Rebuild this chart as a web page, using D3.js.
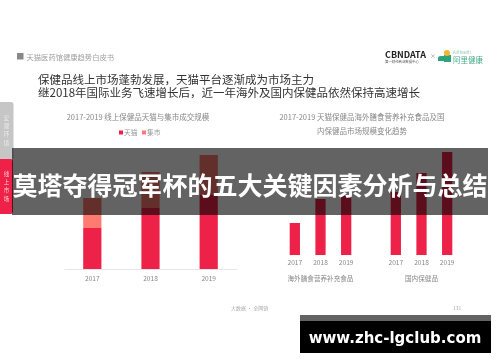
<!DOCTYPE html>
<html>
<head>
<meta charset="utf-8">
<script src="https://cdn.jsdelivr.net/npm/d3@7"></script>
<style>
html, body { margin: 0; padding: 0; background: #fff; }
svg { display: block; }
text { font-family: "Noto Sans CJK SC", "Noto Sans", sans-serif; }
</style>
</head>
<body>
<script>
const years = ["2017", "2018", "2019"]
// 左图：天猫 + 集市 堆叠
const tmall = [41, 61, 74]
const jishi = [30, 36, 40]
// 右图：两组
const overseas = [32, 56, 60]
const domestic = [63, 82, 103]
const groupNames = ["海外膳食营养补充食品", "国内保健品"]

const headLines = [
  "保健品线上市场蓬勃发展，天猫平台逐渐成为市场主力",
  "继2018年国际业务飞速增长后，近一年海外及国内保健品依然保持高速增长"
]
const rightTitle = ["2017-2019 天猫保健品海外膳食营养补充食品及国", "内保健品市场规模变化趋势"]

const red = "#ee2449"
const salmon = "#ff7a70"

const svg = d3.select("body").append("svg")
  .attr("width", 500)
  .attr("height", 362)

const defs = svg.append("defs")
defs.append("filter").attr("id", "soft")
  .attr("x", "-5%").attr("y", "-5%").attr("width", "110%").attr("height", "110%")
  .append("feGaussianBlur").attr("stdDeviation", 0.4)

const page = svg.append("g").attr("filter", "url(#soft)")

// 页眉
page.append("rect").attr("x", 17).attr("y", 53).attr("width", 6.5).attr("height", 6.5).attr("fill", "#888")
page.append("text").attr("x", 26.5).attr("y", 59.5).attr("font-size", 7.3).attr("fill", "#a0a0a0")
  .text("天猫医药馆健康趋势白皮书")

page.selectAll(".head").data(headLines).enter().append("text")
  .attr("class", "head")
  .attr("x", 38)
  .attr("y", (d, i) => 83.5 + i * 13)
  .attr("font-size", 11.5)
  .attr("fill", "#333")
  .text(d => d)

// 标签页
page.append("rect").attr("x", -4).attr("y", 102).attr("width", 17.5).attr("height", 58).attr("rx", 2.5).attr("fill", "#c6c6c6")
page.append("rect").attr("x", -4).attr("y", 159).attr("width", 17).attr("height", 55).attr("rx", 2.5).attr("fill", red)
const tabs = [["宏观环境", 120], ["线上市场", 176]]
tabs.forEach(t => {
  page.append("g").selectAll("text").data(Array.from(t[0])).enter().append("text")
    .attr("x", 6.5)
    .attr("y", (d, i) => t[1] + i * 8.2)
    .attr("text-anchor", "middle")
    .attr("font-size", 5.5)
    .attr("fill", t[0] === "线上市场" ? "#ffc9d2" : "#eee")
    .text(d => d)
})

// 左图
page.append("text").attr("x", 138).attr("y", 120).attr("text-anchor", "middle").attr("font-size", 7.5).attr("fill", "#888")
  .text("2017-2019 线上保健品天猫与集市成交规模")

const legend = page.append("g").selectAll("g").data([["天猫", red, 119], ["集市", salmon, 142]]).enter().append("g")
legend.append("rect").attr("x", d => d[2]).attr("y", 130.5).attr("width", 4).attr("height", 4).attr("fill", d => d[1])
legend.append("text").attr("x", d => d[2] + 5).attr("y", 135).attr("font-size", 6.8).attr("fill", "#999").text(d => d[0])

const xLeft = d3.scaleBand().domain(years).range([64, 237]).paddingInner(0.687).paddingOuter(0.33)
const yLeft = d3.scaleLinear().domain([0, 114]).range([269, 155])

const leftAxis = page.append("g").attr("transform", "translate(0,269)")
  .call(d3.axisBottom(xLeft).tickSize(0).tickPadding(7))
leftAxis.select(".domain").attr("stroke", "#e6e6e6")
leftAxis.selectAll("text").attr("font-size", 6.6).attr("fill", "#888").attr("font-family", "'Open Sans', sans-serif")

page.append("g").selectAll("rect").data(years).enter().append("rect")
  .attr("x", d => xLeft(d))
  .attr("width", xLeft.bandwidth())
  .attr("y", (d, i) => yLeft(tmall[i]))
  .attr("height", (d, i) => yLeft(0) - yLeft(tmall[i]))
  .attr("fill", red)

page.append("g").selectAll("rect").data(years).enter().append("rect")
  .attr("x", d => xLeft(d))
  .attr("width", xLeft.bandwidth())
  .attr("y", (d, i) => yLeft(tmall[i] + jishi[i]))
  .attr("height", (d, i) => yLeft(tmall[i]) - yLeft(tmall[i] + jishi[i]))
  .attr("fill", salmon)

// 右图
page.selectAll(".rtitle").data(rightTitle).enter().append("text")
  .attr("class", "rtitle")
  .attr("x", 362)
  .attr("y", (d, i) => 120 + i * 14)
  .attr("text-anchor", "middle")
  .attr("font-size", 7.5)
  .attr("fill", "#888")
  .text(d => d)

const yRight = d3.scaleLinear().domain([0, 103]).range([255, 152])

function drawGroup(values, x0, x1, name) {
  const x = d3.scaleBand().domain(years).range([x0, x1]).paddingInner(0.6).paddingOuter(0.3)
  const axis = page.append("g").attr("transform", "translate(0,255)")
    .call(d3.axisBottom(x).tickSize(0).tickPadding(5))
  axis.select(".domain").remove()
  axis.selectAll("text").attr("font-size", 6.6).attr("fill", "#888").attr("font-family", "'Open Sans', sans-serif")

  page.append("g").selectAll("rect").data(values).enter().append("rect")
    .attr("x", (d, i) => x(years[i]))
    .attr("width", x.bandwidth())
    .attr("y", d => yRight(d))
    .attr("height", d => yRight(0) - yRight(d))
    .attr("fill", red)

  page.append("text").attr("x", (x0 + x1) / 2).attr("y", 281).attr("text-anchor", "middle")
    .attr("font-size", 6.6).attr("fill", "#888").text(name)
}
drawGroup(overseas, 282, 359, groupNames[0])
drawGroup(domestic, 383, 460, groupNames[1])

// logo
page.append("text").attr("x", 385).attr("y", 57.5).attr("font-size", 8.5).attr("font-weight", 700).attr("fill", "#222")
  .attr("font-family", "'DejaVu Sans', sans-serif").attr("textLength", 41).attr("lengthAdjust", "spacingAndGlyphs").text("CBNDATA")
page.append("text").attr("x", 385).attr("y", 63).attr("font-size", 3.4).attr("fill", "#555").text("第一财经商业数据中心")
page.append("text").attr("x", 430).attr("y", 58).attr("font-size", 6).attr("fill", "#888").text("×")
page.append("path").attr("d", "M438 61 L438 58 Q438 56 441 56 L444 56 L444 61Z").attr("fill", "#2fa27c")
page.append("path").attr("d", "M444 55 L451 55 L451 62 L444 62Z").attr("fill", "#2fa27c")
page.append("circle").attr("cx", 447).attr("cy", 53).attr("r", 3).attr("fill", "#f2b632")
page.append("text").attr("x", 453).attr("y", 54).attr("font-size", 4.2).attr("fill", "#8fcbae").text("AliHealth")
page.append("text").attr("x", 453).attr("y", 63).attr("font-size", 7.5).attr("fill", "#4aab8b").text("阿里健康")

// 页脚
page.append("text").attr("x", 231).attr("y", 310).attr("font-size", 5).attr("fill", "#aaa").text("大数据 · 全网销")
page.append("text").attr("x", 453).attr("y", 310).attr("font-size", 5).attr("fill", "#aaa").text("131")

// 横幅
svg.append("rect").attr("x", 12).attr("y", 148).attr("width", 476).attr("height", 67).attr("fill", "#000").attr("fill-opacity", 0.61)
svg.append("text").attr("x", 250).attr("y", 195).attr("text-anchor", "middle")
  .attr("font-size", 25).attr("font-weight", 700).attr("fill", "#fff")
  .text("莫塔夺得冠军杯的五大关键因素分析与总结")

svg.append("rect").attr("x", 300).attr("y", 315).attr("width", 191).attr("height", 6).attr("fill", "#636363")
svg.append("rect").attr("x", 300).attr("y", 321).attr("width", 191).attr("height", 32).attr("fill", "#000")
svg.append("text").attr("x", 395).attr("y", 343).attr("text-anchor", "middle")
  .attr("font-size", 15).attr("font-weight", 700).attr("fill", "#fff")
  .style("font-family", "'DejaVu Sans', sans-serif")
  .text("www.zhc-lgclub.com")
</script>
</body>
</html>
